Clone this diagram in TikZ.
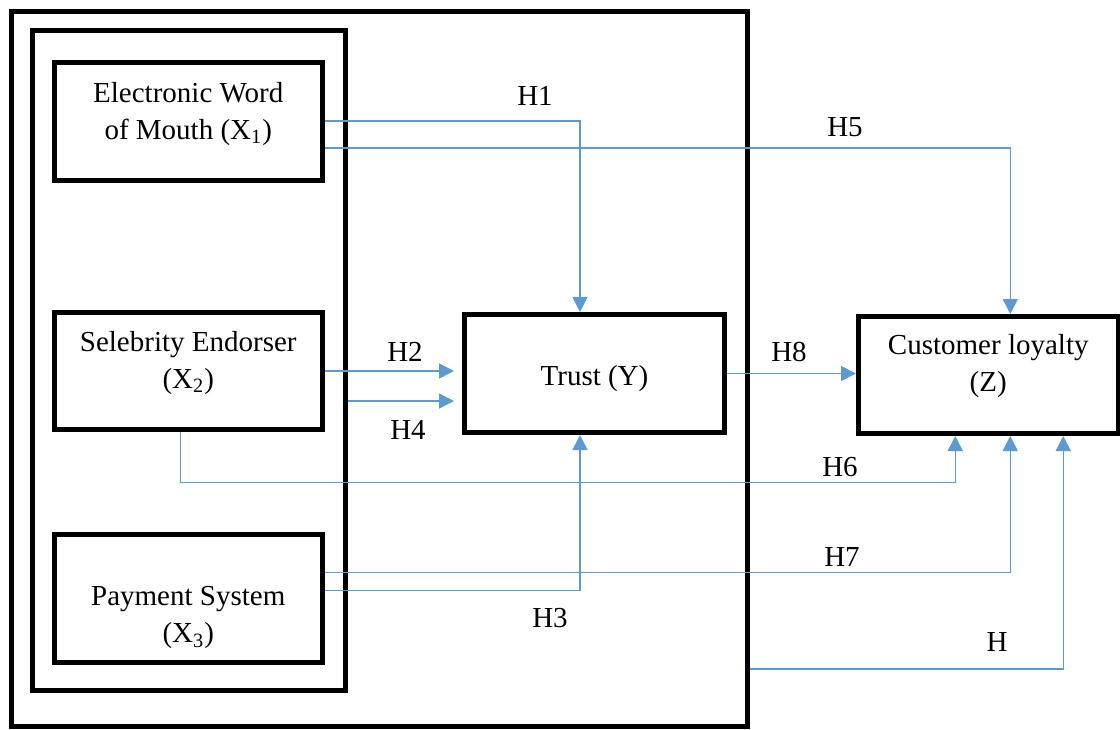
\documentclass[tikz,border=0pt]{standalone}
\usepackage{fontspec}
\setmainfont{Liberation Serif}
\newfontfamily\timesfont{Liberation Serif}
\usetikzlibrary{arrows.meta,calc,positioning}
\definecolor{linkblue}{HTML}{5B9BD5}
\def\u{0.5pt} % one pixel of the reference
\begin{document}
\begin{tikzpicture}[x=\u, y=-\u, font=\timesfont\fontsize{14.5}{18.5}\selectfont, line join=miter,
  bx/.style 2 args={draw, line width=2.5pt, inner sep=0pt, minimum width=#1*\u, minimum height=#2*\u},
  boxtext/.style={align=center, inner sep=0pt},
  hyp/.style={inner sep=1pt},
  link/.style={draw=linkblue, line width=0.75pt, -{Triangle[length=7.5pt,width=7.5pt]}}]
  \useasboundingbox (0,0) rectangle (1120,729);
  % frames
  \node[bx={736}{715}] (outer) at (379,368.5) {};
  \node[bx={313}{660}] (inner) at (189,360.5) {};
  % variables
  \node[bx={267.5}{118}] (x1) at (188.25,121) {};
  \node[bx={267.5}{117}] (x2) at (188.25,371) {};
  \node[bx={267.5}{127.5}] (x3) at (188.25,598.25) {};
  \node[bx={260}{118}] (trust) at (594.5,373.5) {};
  \node[bx={259.5}{117}] (cl) at (988.25,375) {};
  \node[boxtext] (x1t) at ($(x1)+(0,-7)$) {Electronic Word\\of Mouth (X\textsubscript{1})};
  \node[boxtext] (x2t) at ($(x2)+(0,-8)$) {Selebrity Endorser\\(X\textsubscript{2})};
  \node[boxtext] (x3t) at ($(x3)+(0,19.5)$) {Payment System\\(X\textsubscript{3})};
  \node[boxtext] (trustt) at ($(trust)+(0,5.5)$) {Trust (Y)};
  \node[boxtext] (clt) at ($(cl)+(0,-8.5)$) {Customer loyalty\\(Z)};
  % hypotheses
  \draw[link] (x1.east) -| ($(trust.north)+(-14.5,0)$);
  \draw[link] ($(x1.east)+(0,27)$) -| ($(cl.north)+(22,0)$);
  \draw[link, shorten >=4pt] (x2.east) -- (x2.east -| trust.west);
  \coordinate (h4s) at ($(inner.east)+(0,40.5)$);
  \draw[link, shorten >=4pt] (h4s) -- (h4s -| trust.west);
  \draw[link] (trust.east) -- (trust.east -| cl.west);
  \draw[link] ($(x2.south)+(-8,0)$) -- ++(0,50.5) -| ($(cl.south)+(-33,0)$);
  \draw[link] ($(x3.east)+(0,-8)$) -| ($(trust.south)+(-14.5,0)$);
  \draw[link] ($(x3.east)+(0,-26)$) -| ($(cl.south)+(22,0)$);
  \draw[link] ($(outer.east)+(0,300.5)$) -| ($(cl.south)+(75,0)$);
  \node[hyp] (h1) at (535,96) {H1};
  \node[hyp] (h5) at (845,127) {H5};
  \node[hyp] (h2) at (405,352) {H2};
  \node[hyp] (h4) at (408,430) {H4};
  \node[hyp] (h8) at (789,352) {H8};
  \node[hyp] (h6) at (840,467) {H6};
  \node[hyp] (h7) at (842,557) {H7};
  \node[hyp] (h3) at (550,618) {H3};
  \node[hyp] (h) at (997,642) {H};
\end{tikzpicture}
\end{document}
